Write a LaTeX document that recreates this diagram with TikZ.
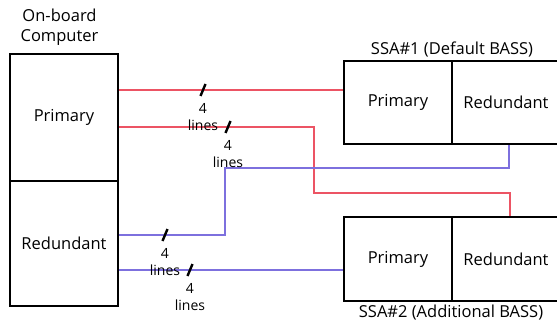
\documentclass[tikz,border=0pt]{standalone}
\usepackage{fontspec}
\setmainfont{Open Sans}
\definecolor{redl}{RGB}{236,84,100}
\definecolor{bluel}{RGB}{125,112,222}
\begin{document}
\begin{tikzpicture}[x=1pt,y=-1pt,
  box/.style={draw=black,line width=2.4pt,minimum width=108pt,inner sep=0pt,font=\fontsize{16.5}{19}\selectfont},
  redwire/.style={draw=redl,line width=1.2pt},
  bluewire/.style={draw=bluel,line width=1.2pt},
  tick/.style={draw=black,line width=2.4pt},
  cnt/.style={align=center,inner sep=0pt,font=\fontsize{14}{17}\selectfont},
  ttl/.style={align=center,inner sep=0pt,font=\fontsize{16.5}{20.5}\selectfont}]
\useasboundingbox (0,0) rectangle (557,329);
\begin{scope}
\clip (0,0) rectangle (557,329);
% On-board computer
\node[box,minimum height=127pt] (obcP) at (64,117.5) {Primary};
\node[box,minimum height=125pt] (obcR) at (64,243.5) {Redundant};
\node[ttl] (obcT) at (59.5,27) {On-board\\Computer};
% SSA#1
\node[box,minimum height=83pt] (s1P) at (398,102.5) {Primary};
\node[box,minimum height=83pt] (s1R) at (506,102.5) {Redundant};
\node[ttl] (s1T) at (452,49) {SSA\#1 (Default BASS)};
% SSA#2
\node[box,minimum height=84pt] (s2P) at (398,259) {Primary};
\node[box,minimum height=84pt] (s2R) at (506,259) {Redundant};
\node[ttl] (s2T) at (451,313) {SSA\#2 (Additional BASS)};
% wires
\coordinate (r1) at ([yshift=27.5pt]obcP.east);
\draw[redwire] (r1) -- (r1 -| s1P.west);
\draw[redwire] ([yshift=-9.5pt]obcP.east) -| (314,193) -| ([xshift=4pt]s2R.north);
\draw[bluewire] ([xshift=3pt]s1R.south) |- (225,168) |- ([yshift=8.5pt]obcR.east);
\coordinate (b2) at ([yshift=-26.5pt]obcR.east);
\draw[bluewire] (b2) -- (b2 -| s2P.west);
% ticks and labels
\foreach \x/\y [count=\i] in {203/90,228/127,165/235,190/270}{
  \draw[tick] (\x-2.5,\y+6) -- (\x+2.5,\y-6);
  \node[cnt] (lab\i) at (\x,\y+27) {4\\lines};
}
\end{scope}
\end{tikzpicture}
\end{document}
